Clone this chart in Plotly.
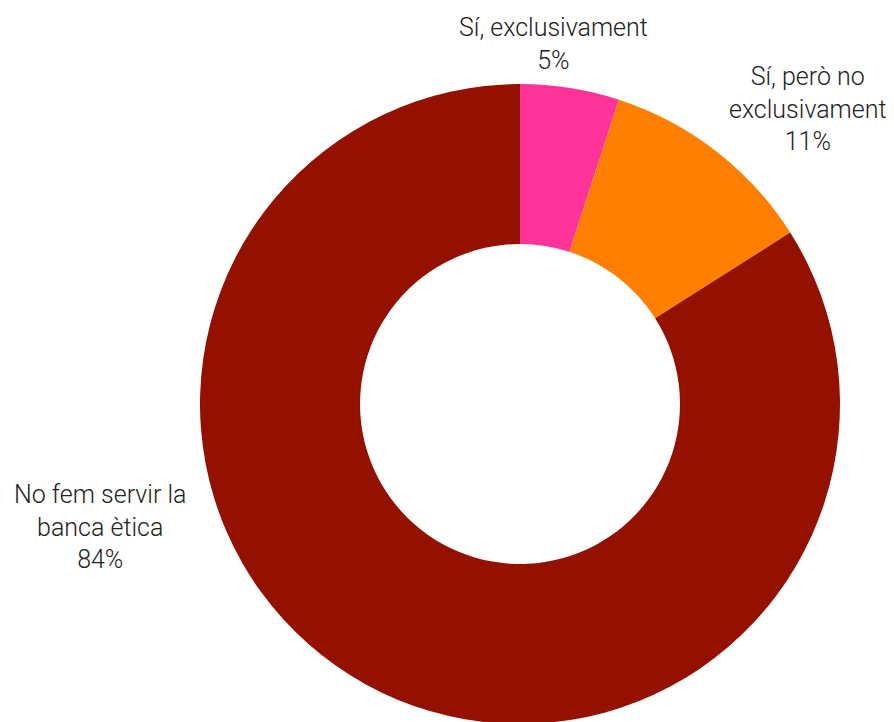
import plotly.graph_objects as go

labels = ["Sí, exclusivament", "Sí, però no<br>exclusivament", "No fem servir la<br>banca ètica"]
values = [5, 11, 84]
colors = ["#FF3399", "#FF7F00", "#941100"]

W, H = 894, 722
OFF = 8  # page body margin

cx, cy, r = 520 - OFF, 404 - OFF, 320
fig = go.Figure(go.Pie(
    labels=labels,
    values=values,
    hole=0.5,
    sort=False,
    direction="clockwise",
    rotation=0,
    marker=dict(colors=colors, line=dict(width=0)),
    textinfo="none",
    hoverinfo="label+percent",
    showlegend=False,
    domain=dict(x=[(cx - r) / W, (cx + r) / W],
                y=[(H - cy - r) / H, (H - cy + r) / H]),
))

# label positions (pixel centers in the picture)
label_pos = [(553, 44), (808, 109), (100, 527)]
total = sum(values)
for lab, v, (px, py) in zip(labels, values, label_pos):
    fig.add_annotation(
        x=(px - OFF) / W, y=1 - (py - OFF) / H, xref="paper", yref="paper",
        text=f"{lab}<br>{round(100 * v / total)}%",
        showarrow=False, xanchor="center", yanchor="middle",
        font=dict(family="Roboto", size=25, color="#222222", weight=300),
        align="center",
    )

fig.update_layout(
    width=W, height=H,
    margin=dict(l=0, r=0, t=0, b=0),
    paper_bgcolor="white",
    plot_bgcolor="white",
)

fig.write_html("out.html")
